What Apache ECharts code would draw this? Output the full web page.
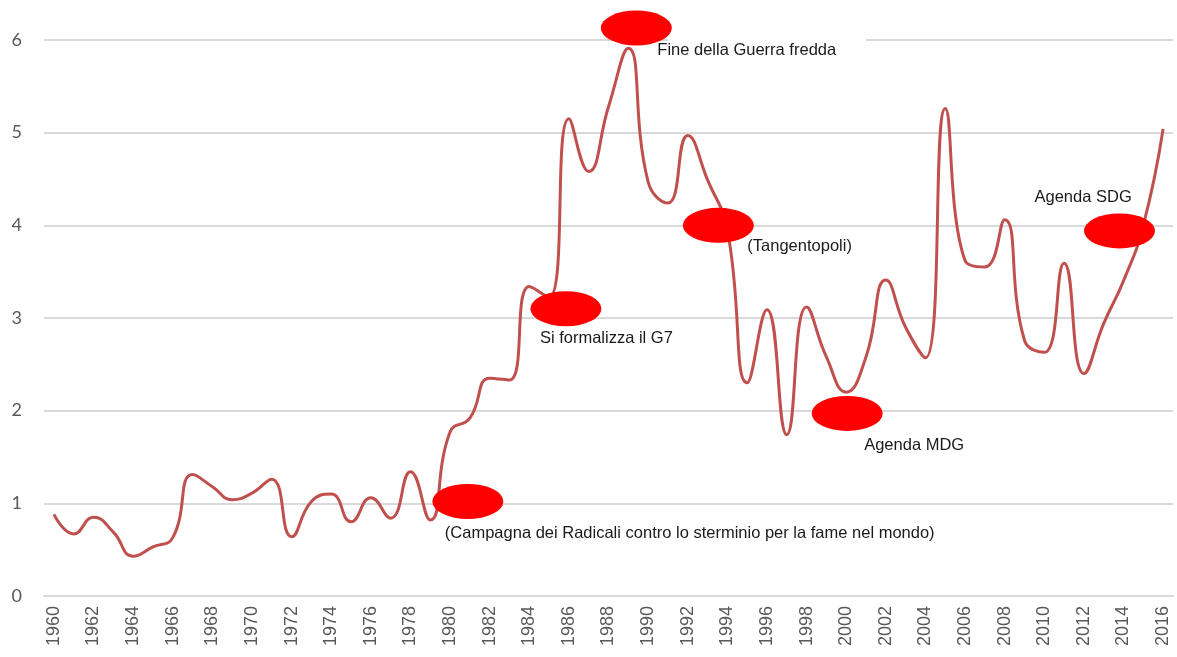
<!DOCTYPE html>
<html>
<head>
<meta charset="utf-8">
<script src="https://cdn.jsdelivr.net/npm/echarts@6/dist/echarts.min.js"></script>
<style>
  html, body { margin: 0; padding: 0; background: #fff; }
  #chart { width: 1177px; height: 657px; }
</style>
</head>
<body>
<div id="chart"></div>
<script>
// anni e valori
const years = []
for (let y = 1960; y <= 2016; y++) years.push(String(y))

const values = [
  0.88, 0.67, 0.85, 0.69, 0.43, 0.53, 0.63, 1.31, 1.18, 1.04,
  1.11, 1.26, 0.64, 1.02, 1.10, 0.80, 1.06, 0.84, 1.34, 0.82,
  1.77, 1.92, 2.35, 2.33, 3.34, 3.22, 5.15, 4.58, 5.28, 5.91,
  4.47, 4.24, 4.97, 4.49, 3.95, 2.30, 3.09, 1.74, 3.12, 2.58,
  2.20, 2.58, 3.41, 2.90, 2.57, 5.26, 3.62, 3.55, 4.06, 2.76,
  2.63, 3.59, 2.40, 2.94, 3.40, 4.00, 5.04
]

// annotazioni (ellissi rosse + testo)
const noteYears = ['1981', '1986', '1989', '1994', '2000', '2014']
const noteValues = [1.02, 3.10, 6.00, 4.00, 1.97, 3.94]
const noteTexts = [
  '(Campagna dei Radicali contro lo sterminio per la fame nel mondo)',
  'Si formalizza il G7',
  'Fine della Guerra fredda',
  '(Tangentopoli)',
  'Agenda MDG',
  'Agenda SDG'
]

// tratto della griglia a quota 6 nascosto dalla casella di testo
const maskFrom = '1991'
const maskTo = '2001'

// spostamenti delle ellissi e dei testi (px)
// l'ellisse del 1989 sta sopra il massimo dell'asse: la si alza con l'offset
const symbolShift = [[-2, 0], [-3, 0], [8, -12], [-9, 0], [1, 0], [-4, 0]]
const labelShift = [[-23, 32], [-26, 30], [21, 22], [29, 21], [17, 32], [-85, -33]]

const chart = echarts.init(document.getElementById('chart'))

const marks = noteYears.map(function (y, i) {
  return {
    coord: [y, noteValues[i]],
    symbolOffset: symbolShift[i],
    label: {
      show: true,
      position: 'inside',
      align: 'left',
      verticalAlign: 'middle',
      offset: labelShift[i],
      formatter: noteTexts[i],
      color: '#1a1a1a',
      fontSize: 16.5,
      fontFamily: 'Liberation Sans, Arial, sans-serif'
    }
  }
})

chart.setOption({
  animation: false,
  backgroundColor: '#fff',
  grid: { left: 44, right: 4, top: 40, bottom: 61, containLabel: false },
  xAxis: {
    type: 'category',
    data: years,
    boundaryGap: true,
    axisLine: { show: true, lineStyle: { color: '#d9d9d9', width: 2 } },
    axisTick: { show: false },
    axisLabel: {
      interval: 1,
      rotate: 90,
      margin: 10,
      color: '#595959',
      fontSize: 18,
      fontFamily: 'Liberation Sans, Arial, sans-serif'
    },
    splitLine: { show: false }
  },
  yAxis: {
    type: 'value',
    min: 0,
    max: 6,
    interval: 1,
    axisLine: { show: false },
    axisTick: { show: false },
    axisLabel: {
      margin: 22,
      color: '#595959',
      fontSize: 18,
      fontFamily: 'Lato, Liberation Sans, sans-serif'
    },
    splitLine: { lineStyle: { color: '#d9d9d9', width: 2 } }
  },
  series: [{
    type: 'line',
    data: values,
    smooth: 0.5,
    symbol: 'none',
    lineStyle: { color: '#c0504d', width: 3 },
    markLine: {
      silent: true,
      symbol: 'none',
      label: { show: false },
      lineStyle: { color: '#fff', width: 5, type: 'solid' },
      data: [[{ coord: [maskFrom, 6] }, { coord: [maskTo, 6] }]]
    },
    markPoint: {
      symbol: 'circle',
      symbolSize: [71, 35],
      itemStyle: { color: '#ff0000' },
      data: marks
    }
  }]
})
</script>
</body>
</html>
